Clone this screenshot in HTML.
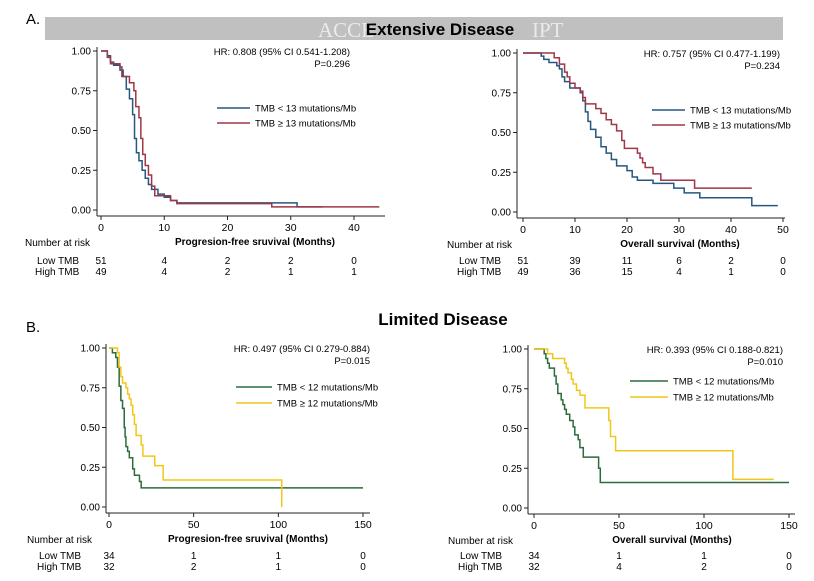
<!DOCTYPE html>
<html><head><meta charset="utf-8"><style>
body{margin:0;background:#fff;}
svg{display:block;font-family:"Liberation Sans",Arial,sans-serif;}
</style></head><body>
<svg id="fig" width="814" height="581" viewBox="0 0 814 581">
<rect x="0" y="0" width="814" height="581" fill="#fff"/>
<text x="26" y="24" font-size="15">A.</text>
<rect x="45" y="17" width="738" height="23" fill="#c0c0c0"/>
<text x="318" y="37" font-size="21" fill="#eaeaea" font-family="Liberation Serif,serif">ACCE</text>
<text x="532" y="37" font-size="21" fill="#eaeaea" font-family="Liberation Serif,serif">IPT</text>
<text x="440" y="35" font-size="17" font-weight="bold" text-anchor="middle">Extensive Disease</text>
<text x="26" y="332" font-size="15">B.</text>
<text x="443" y="325" font-size="17" font-weight="bold" text-anchor="middle">Limited Disease</text>
<g id="plots"></g>
</svg>
<script>
// Panel A1 (PFS extensive)
const a1LowT=[0,1,1.5,2,3,3.5,4,4.5,5,5.3,5.6,6,6.5,7,7.5,8,9,10,11,12,31,35];
const a1LowS=[1,0.97,0.93,0.91,0.88,0.84,0.76,0.70,0.60,0.45,0.36,0.31,0.25,0.20,0.16,0.13,0.10,0.08,0.06,0.045,0.02,0.02];
const a1HighT=[0,1,1.5,3,3.3,4.5,5.2,5.5,6,6.3,6.6,7,7.5,8,8.5,11,12,27,44];
const a1HighS=[1,0.96,0.92,0.90,0.84,0.80,0.75,0.65,0.58,0.45,0.35,0.28,0.22,0.15,0.09,0.06,0.04,0.02,0.02];
// Panel A2 (OS extensive)
const a2LowT=[0,3.5,4,5,6.5,7,7.5,8,9,11,11.5,12,12.5,13,14,15,16,17,18,20,21,22,25,29,31,34,44,49];
const a2LowS=[1,0.98,0.96,0.94,0.92,0.90,0.85,0.82,0.78,0.75,0.70,0.63,0.57,0.52,0.47,0.41,0.37,0.33,0.29,0.26,0.22,0.20,0.18,0.15,0.12,0.09,0.04,0.04];
const a2HighT=[0,6,7,8,8.5,9,10,11,11.5,12,14,15,16,17,18,19,19.5,22,22.5,23,23.5,25,26.5,33,44];
const a2HighS=[1,0.97,0.93,0.88,0.85,0.81,0.78,0.76,0.72,0.68,0.65,0.62,0.58,0.55,0.51,0.45,0.40,0.37,0.34,0.31,0.28,0.24,0.20,0.15,0.15];
// Panel B1 (PFS limited)
const b1LowT=[0,2,4,5,6,7,8,9,9.5,10,11,12,14,15,18,19,150];
const b1LowS=[1,0.97,0.94,0.88,0.76,0.67,0.62,0.50,0.44,0.38,0.35,0.31,0.24,0.20,0.16,0.12,0.12];
const b1HighT=[0,5,6,7,8,10,11,12,13,14,15,16,19,20,27,32,102,102];
const b1HighS=[1,0.97,0.88,0.82,0.78,0.75,0.71,0.68,0.64,0.58,0.52,0.45,0.39,0.32,0.26,0.17,0.0,0.0];
// Panel B2 (OS limited)
const b2LowT=[0,6,7,8,9,12,13,14,16,17,18,19,21,23,24,26,27,29,38,39,150];
const b2LowS=[1,0.97,0.94,0.91,0.88,0.83,0.78,0.72,0.68,0.65,0.62,0.59,0.55,0.51,0.46,0.43,0.38,0.32,0.25,0.16,0.16];
const b2HighT=[0,8,11,18,19,20,22,23,25,27,30,44,45,48,117,141];
const b2HighS=[1,0.97,0.94,0.91,0.88,0.85,0.81,0.78,0.74,0.71,0.63,0.55,0.45,0.36,0.18,0.18];
// axis ticks
const yTicks=[0,0.25,0.5,0.75,1];
const yTickLabels=["0.00","0.25","0.50","0.75","1.00"];
const a1XTicks=[0,10,20,30,40];
const a2XTicks=[0,10,20,30,40,50];
const bXTicks=[0,50,100,150];
// risk tables
const a1RiskLow=["51","4","2","2","0"], a1RiskHigh=["49","4","2","1","1"];
const a2RiskLow=["51","39","11","6","2","0"], a2RiskHigh=["49","36","15","4","1","0"];
const b1RiskLow=["34","1","1","0"], b1RiskHigh=["32","2","1","0"];
const b2RiskLow=["34","1","1","0"], b2RiskHigh=["32","4","2","0"];

const NS="http://www.w3.org/2000/svg";
const root=document.getElementById('plots');
function mk(tag,attrs,parent,text){const e=document.createElementNS(NS,tag);for(const k in attrs)e.setAttribute(k,attrs[k]);if(text!==undefined)e.textContent=text;(parent||root).appendChild(e);return e;}

function panel(p){
  const g=mk('g',{});
  
  
  const sx=t=>p.x0+(t-p.xmin)*(p.x1-p.x0)/(p.xmax-p.xmin);
  const sy=v=>p.y0+(1-v)*(p.y1-p.y0);
  // y axis
  const ya=mk('line',{x1:p.ax,y1:p.y0-4,x2:p.ax,y2:p.axB,stroke:'#222','stroke-width':1},g);
  
  
  yTicks.forEach((v,i)=>{
    mk('line',{x1:p.ax-4,y1:sy(v),x2:p.ax,y2:sy(v),stroke:'#222'},g);
    const t=mk('text',{x:p.ax-6,y:sy(v)+3.5,'font-size':10,'text-anchor':'end'},g,yTickLabels[i]);
    
    
  });
  const xa=mk('line',{x1:p.ax,y1:p.axB,x2:p.axR,y2:p.axB,stroke:'#222'},g);
  
  
  p.xt.forEach((v,i)=>{
    mk('line',{x1:sx(v),y1:p.axB,x2:sx(v),y2:p.axB+4,stroke:'#222'},g);
    const t=mk('text',{x:sx(v),y:p.axB+15,'font-size':10.5,'text-anchor':'middle'},g,String(v));
    
    
    const r1=mk('text',{x:sx(v),y:p.riskY,'font-size':10,'text-anchor':'middle'},g,p.rl[i]);
    
    
    const r2=mk('text',{x:sx(v),y:p.riskY+11,'font-size':10,'text-anchor':'middle'},g,p.rh[i]);
    
    
  });
  const xl=mk('text',{x:p.xlX,y:p.axB+29,'font-size':10,'font-weight':'bold','text-anchor':'middle'},g,p.xlabel);
  
  
  const nr=mk('text',{x:p.nrX,y:p.axB+30,'font-size':10},g,'Number at risk');
  
  
  const lt=mk('text',{x:p.nrX+12,y:p.riskY,'font-size':10},g,'Low TMB');
  
  
  const ht=mk('text',{x:p.nrX+10,y:p.riskY+11,'font-size':10},g,'High TMB');
  
  
  const h1=mk('text',{x:p.hrX,y:p.y0+4,'font-size':9.5,'text-anchor':'end'},g,p.hr);
  
  
  const h2=mk('text',{x:p.hrX,y:p.y0+16,'font-size':9.5,'text-anchor':'end'},g,p.pv);
  
  
  // curves
  [[p.lt,p.ls,p.c1],[p.ht,p.hs,p.c2]].forEach(([T,S,c],k)=>{
    let d='M'+sx(T[0])+','+sy(S[0]);
    for(let i=1;i<T.length;i++){d+=' H'+sx(T[i])+' V'+sy(S[i]);}
    const path=mk('path',{d:d,fill:'none',stroke:c,'stroke-width':1.5},g);
    
    
  });
  // legend
  [[p.c1,p.lg1],[p.c2,p.lg2]].forEach(([c,txt],k)=>{
    const ly=p.legY+k*p.legGap;
    const l=mk('line',{x1:p.legX,y1:ly,x2:p.legX+p.legW,y2:ly,stroke:c,'stroke-width':1.5},g);
    
    
    const t=mk('text',{x:p.legX+p.legW+5,y:ly+3.5,'font-size':9.5},g,txt);
    
    
  });
}
const BLUE='#255780',RED='#a03646',GREEN='#2c6b3c',YEL='#f2c619';
panel({name:'pfs-extensive-plot',xmin:0,xmax:40,x0:101,x1:354,y0:51,y1:210,ax:97,axB:216,axR:385,xt:a1XTicks,rl:a1RiskLow,rh:a1RiskHigh,riskY:264,xlX:255,xlabel:'Progresion-free sruvival (Months)',nrX:25,hrX:350,hr:'HR: 0.808 (95% CI 0.541-1.208)',pv:'P=0.296',lt:a1LowT,ls:a1LowS,ht:a1HighT,hs:a1HighS,c1:BLUE,c2:RED,lg1:'TMB < 13 mutations/Mb',lg2:'TMB \u2265 13 mutations/Mb',legX:217,legW:33,legY:108,legGap:15});
panel({name:'os-extensive-plot',xmin:0,xmax:50,x0:523,x1:783,y0:53,y1:212,ax:517,axB:218,axR:785,xt:a2XTicks,rl:a2RiskLow,rh:a2RiskHigh,riskY:264,xlX:680,xlabel:'Overall survival (Months)',nrX:447,hrX:780,hr:'HR: 0.757 (95% CI 0.477-1.199)',pv:'P=0.234',lt:a2LowT,ls:a2LowS,ht:a2HighT,hs:a2HighS,c1:BLUE,c2:RED,lg1:'TMB < 13 mutations/Mb',lg2:'TMB \u2265 13 mutations/Mb',legX:652,legW:33,legY:110,legGap:15});
panel({name:'pfs-limited-plot',xmin:0,xmax:150,x0:109,x1:363,y0:348,y1:507,ax:106,axB:513,axR:370,xt:bXTicks,rl:b1RiskLow,rh:b1RiskHigh,riskY:559,xlX:248,xlabel:'Progresion-free sruvival (Months)',nrX:27,hrX:370,hr:'HR: 0.497 (95% CI 0.279-0.884)',pv:'P=0.015',lt:b1LowT,ls:b1LowS,ht:b1HighT,hs:b1HighS,c1:GREEN,c2:YEL,lg1:'TMB < 12 mutations/Mb',lg2:'TMB \u2265 12 mutations/Mb',legX:236,legW:36,legY:387,legGap:16});
panel({name:'os-limited-plot',xmin:0,xmax:150,x0:534,x1:789,y0:349,y1:508,ax:528,axB:514,axR:795,xt:bXTicks,rl:b2RiskLow,rh:b2RiskHigh,riskY:559,xlX:672,xlabel:'Overall survival (Months)',nrX:448,hrX:783,hr:'HR: 0.393 (95% CI 0.188-0.821)',pv:'P=0.010',lt:b2LowT,ls:b2LowS,ht:b2HighT,hs:b2HighS,c1:GREEN,c2:YEL,lg1:'TMB < 12 mutations/Mb',lg2:'TMB \u2265 12 mutations/Mb',legX:630,legW:38,legY:381,legGap:16});
</script>
</body></html>
